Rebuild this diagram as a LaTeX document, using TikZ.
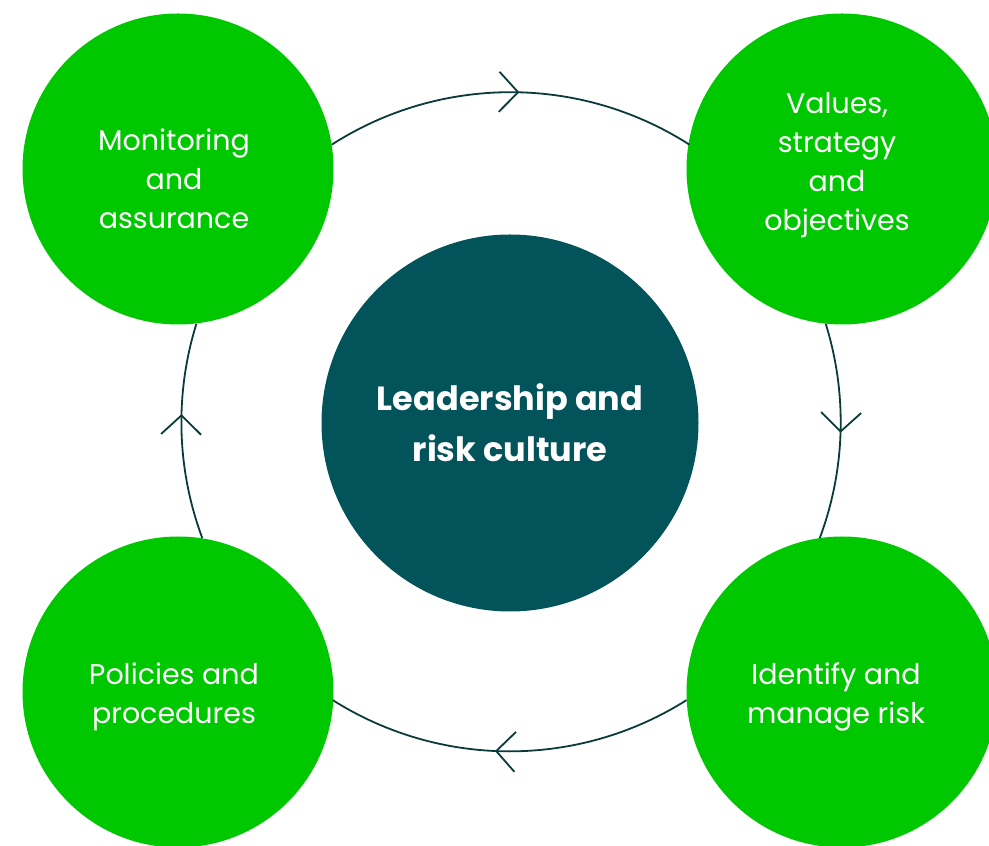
\documentclass[tikz,border=0pt]{standalone}
\usepackage{fontspec}
\setmainfont{Poppins}
\usetikzlibrary{decorations.markings}

\definecolor{leafgreen}{HTML}{00C800}
\definecolor{deepteal}{HTML}{03535A}
\definecolor{ringline}{HTML}{0A3B3B}

\begin{document}
\begin{tikzpicture}[x=1pt,y=1pt,
    bubble/.style={circle,fill=leafgreen,minimum size=311pt,inner sep=0pt},
    bubbletext/.style={align=center,text=white,font=\fontsize{28.5}{39}\selectfont},
    flow/.style={ringline,line width=1.8pt},
    chevron/.style={postaction={decorate},
      decoration={markings,mark=at position #1 with
        {\draw[ringline,line width=1.8pt] (-19pt,20pt) -- (0pt,0pt) -- (-19pt,-20pt);}}}]
  \useasboundingbox (0,0) rectangle (989,846);

  % Centre circle
  \node[circle,fill=deepteal,minimum size=377pt,inner sep=0pt,align=center,text=white,
        font=\bfseries\fontsize{33.5}{51}\selectfont] (hub) at (510,423) {Leadership and\\risk culture};

  % Four stages
  \node[bubble] (mon) at (178,677) {};
  \node[bubble] (val) at (842,677) {};
  \node[bubble] (idm) at (842,154) {};
  \node[bubble] (pol) at (178,154) {};

  \node[bubbletext] (monT) at ([xshift=-4,yshift=-10]mon) {Monitoring\\and\\assurance};
  \node[bubbletext] (valT) at ([xshift=-5,yshift=4]val) {Values,\\strategy\\and\\objectives};
  \node[bubbletext] (idmT) at ([xshift=-6,yshift=-5]idm) {Identify and\\manage risk};
  \node[bubbletext] (polT) at ([xshift=-4,yshift=-5]pol) {Policies and\\procedures};

  % Ring, clockwise
  \draw[flow,chevron=0.52] (mon.9.5) arc[start angle=122.7,end angle=57.3,radius=331];
  \draw[flow,chevron=0.5] (val.264.1) arc[start angle=17.3,end angle=-20.5,radius=331];
  \draw[flow,chevron=0.536] (idm.183.6) arc[start angle=-57.7,end angle=-122.3,radius=331];
  \draw[flow,chevron=0.574] (pol.81.9) arc[start angle=200.5,end angle=162.7,radius=331];
\end{tikzpicture}
\end{document}
